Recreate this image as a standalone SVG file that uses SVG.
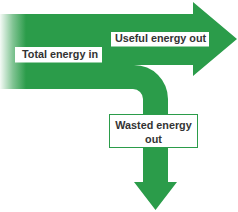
<svg xmlns="http://www.w3.org/2000/svg" width="238" height="212" viewBox="0 0 238 212">
<style>
.lbl{font-family:"Liberation Sans",Arial,sans-serif;font-weight:bold;font-size:10.8px;fill:#333;text-anchor:middle}
.box{fill:#fff}
</style>
<defs>
<linearGradient id="fade" gradientUnits="userSpaceOnUse" x1="0" y1="0" x2="26" y2="0">
<stop offset="0" stop-color="#2b9c4a" stop-opacity="0.05"/>
<stop offset="0.5" stop-color="#2b9c4a" stop-opacity="0.6"/>
<stop offset="1" stop-color="#2b9c4a" stop-opacity="1"/>
</linearGradient>
</defs>
<rect width="238" height="212" fill="#fff"/>
<g id="connectors">
<path d="M0,14 L193,14 L193,2 L237,39 L193,76 L193,65 L134,65 A34,34 0 0 1 168,99 L168,182 L177,182 L155.5,210 L134,182 L143,182 L143,99 A10,10 0 0 0 133,89 L0,89 Z" fill="url(#fade)"/>
</g>
<g id="total-energy-in">
<rect class="box" x="15" y="47" width="87" height="15.5"/>
<text class="lbl" x="60" y="58.3">Total energy in</text>
</g>
<g id="useful-energy-out">
<rect class="box" x="111" y="32" width="98" height="14.5"/>
<text class="lbl" x="160.5" y="42.3">Useful energy out</text>
</g>
<g id="wasted-energy-out">
<rect class="box" x="109.5" y="114.5" width="88" height="33" stroke="#2b9c4a" stroke-width="1"/>
<text class="lbl" x="153.5" y="129">Wasted energy</text>
<text class="lbl" x="153.5" y="143">out</text>
</g>
</svg>
